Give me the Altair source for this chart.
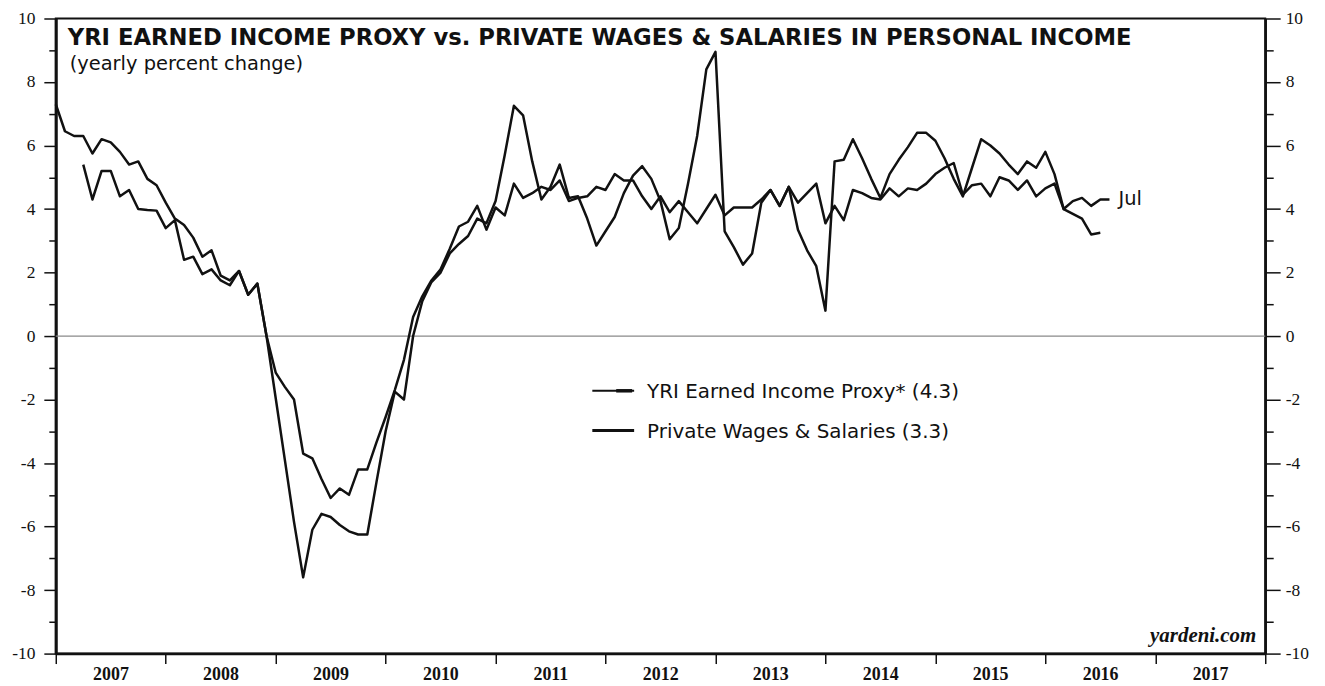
import altair as alt
import pandas as pd

# ---------------- data ----------------
years = list(range(2007, 2019))          # year boundary ticks
y_ticks = list(range(-10, 11))           # every integer; odd ones are minor ticks

proxy_label = "YRI Earned Income Proxy* (4.3)"
pws_label = "Private Wages & Salaries (3.3)"

# monthly, plotted at month end; index 0 = Dec 2006
proxy_start = 0
proxy_vals = [
    7.3, 6.45, 6.3, 6.3, 5.75, 6.2, 6.1, 5.8, 5.4, 5.5,
    4.95, 4.75, 4.2, 3.7, 3.5, 3.1, 2.5, 2.7, 1.9, 1.75,
    2.05, 1.3, 1.65, 0.0, -1.15, -1.6, -2.0, -3.7, -3.85, -4.5,
    -5.1, -4.8, -5.0, -4.2, -4.2, -3.35, -2.55, -1.7, -0.75, 0.6,
    1.25, 1.75, 2.1, 2.75, 3.45, 3.6, 4.1, 3.35, 4.05, 3.8,
    4.8, 4.35, 4.5, 4.7, 4.6, 4.9, 4.25, 4.35, 4.4, 4.7,
    4.6, 5.1, 4.9, 4.9, 4.4, 4.0, 4.4, 3.9, 4.25, 3.9,
    3.55, 4.0, 4.45, 3.8, 4.05, 4.05, 4.05, 4.3, 4.6, 4.1,
    4.7, 4.2, 4.5, 4.8, 3.55, 4.1, 3.65, 4.6, 4.5, 4.35,
    4.3, 4.65, 4.4, 4.65, 4.6, 4.8, 5.1, 5.3, 5.45, 4.45,
    4.75, 4.8, 4.4, 5.0, 4.9, 4.6, 4.9, 4.4, 4.65, 4.8,
    4.0, 4.25, 4.35, 4.1, 4.3, 4.3,
]

# index 3 = Mar 2007, last = Jun 2016
pws_start = 3
pws_vals = [
    5.4, 4.3, 5.2, 5.2, 4.4, 4.6, 4.0, 3.97, 3.95, 3.4,
    3.65, 2.4, 2.5, 1.95, 2.1, 1.75, 1.6, 2.05, 1.3, 1.65,
    0.0, -1.95, -3.9, -5.85, -7.6, -6.1, -5.6, -5.7, -5.95, -6.15,
    -6.25, -6.25, -4.6, -3.0, -1.75, -2.0, 0.0, 1.1, 1.7, 2.0,
    2.6, 2.9, 3.15, 3.7, 3.55, 4.25, 5.7, 7.25, 6.95, 5.5,
    4.3, 4.7, 5.4, 4.35, 4.4, 3.7, 2.85, 3.3, 3.75, 4.5,
    5.05, 5.35, 4.95, 4.25, 3.05, 3.4, 4.8, 6.3, 8.4, 8.95,
    3.3, 2.8, 2.25, 2.6, 4.2, 4.6, 4.1, 4.7, 3.35, 2.7,
    2.2, 0.8, 5.5, 5.55, 6.2, 5.6, 4.95, 4.35, 5.1, 5.55,
    5.95, 6.4, 6.4, 6.15, 5.6, 4.95, 4.4, 5.3, 6.2, 6.0,
    5.75, 5.4, 5.1, 5.5, 5.3, 5.8, 5.1, 4.0, 3.85, 3.7,
    3.2, 3.25,
]

rows = []
for i, v in enumerate(proxy_vals):
    rows.append({"t": 2007 + (proxy_start + i) / 12, "value": v, "series": proxy_label})
for i, v in enumerate(pws_vals):
    rows.append({"t": 2007 + (pws_start + i) / 12, "value": v, "series": pws_label})
df = pd.DataFrame(rows)

last_df = pd.DataFrame({
    "t": [2007 + (proxy_start + len(proxy_vals) - 1) / 12],
    "value": [proxy_vals[-1]],
    "label": ["Jul"],
})

# ---------------- styling ----------------
W, H = 1215, 638
INK = "#111111"
SERIF = "Liberation Serif"
SANS = "DejaVu Sans"
ODD = "datum.value % 2 != 0"

x_scale = alt.Scale(domain=[2007, 2018], nice=False, zero=False)
y_scale = alt.Scale(domain=[-10, 10], nice=False, zero=False)

x_axis = alt.Axis(
    values=years, format="d",
    labelExpr="datum.value >= 2018 ? '' : '' + datum.value",
    labelOffset=55, labelFlush=False, labelOverlap=False, labelBound=False,
    labelFont=SERIF, labelFontWeight="bold", labelFontSize=18, labelColor=INK,
    labelPadding=2, tickSize=10, tickWidth=1.5, tickColor=INK,
    domainWidth=2.5, domainColor=INK, grid=False, title=None,
)

y_left = alt.Axis(
    orient="left", values=y_ticks,
    labelExpr=f"{ODD} ? '' : '' + datum.value",
    labelFont=SERIF, labelFontSize=17.5, labelColor=INK, labelPadding=9,
    tickSize={"condition": {"test": ODD, "value": 7}, "value": 12},
    tickWidth=1.5, tickColor=INK, domainWidth=3, domainColor=INK,
    grid=False, title=None, labelOverlap=False, labelFlush=False,
)

y_right = alt.Axis(
    orient="right", values=y_ticks,
    labelExpr=f"{ODD} ? '' : '' + datum.value",
    labelFont=SERIF, labelFontSize=17.5, labelColor=INK, labelPadding=5,
    tickSize={"condition": {"test": ODD, "value": 8}, "value": 15},
    tickWidth=1.5, tickColor=INK, domainWidth=2.5, domainColor=INK,
    grid=False, title=None, labelOverlap=False, labelFlush=False,
)

zero_df = pd.DataFrame({"value": [0]})
zero_rule = alt.Chart(zero_df).mark_rule(color="#8a8a8a", strokeWidth=1.2).encode(
    y=alt.Y("value:Q", scale=y_scale, axis=y_right)
)

lines = alt.Chart(df).mark_line(color=INK, strokeWidth=2.5, strokeJoin="round").encode(
    x=alt.X("t:Q", scale=x_scale, axis=x_axis),
    y=alt.Y("value:Q", scale=y_scale, axis=y_left),
    detail="series:N",
)

jul = alt.Chart(last_df).mark_text(
    align="left", baseline="middle", dx=9, font=SANS, fontSize=19.5, color=INK
).encode(
    x=alt.X("t:Q", scale=x_scale),
    y=alt.Y("value:Q", scale=y_scale, axis=None),
    text="label:N",
)

one = pd.DataFrame({"a": [0]})

title = alt.Chart(one).mark_text(
    text="YRI EARNED INCOME PROXY vs. PRIVATE WAGES & SALARIES IN PERSONAL INCOME",
    align="left", baseline="alphabetic", font=SANS, fontWeight="bold", fontSize=22.8, color=INK,
).encode(x=alt.value(12), y=alt.value(27))

subtitle = alt.Chart(one).mark_text(
    text="(yearly percent change)", align="left", baseline="alphabetic",
    font=SANS, fontSize=19.5, color=INK,
).encode(x=alt.value(14), y=alt.value(52))

leg1_line = alt.Chart(one).mark_rule(color=INK, strokeWidth=2).encode(
    x=alt.value(539), x2=alt.value(581), y=alt.value(374))
leg1_thick = alt.Chart(one).mark_rule(color=INK, strokeWidth=3.5).encode(
    x=alt.value(563), x2=alt.value(579), y=alt.value(374))
leg2_line = alt.Chart(one).mark_rule(color=INK, strokeWidth=3).encode(
    x=alt.value(539), x2=alt.value(581), y=alt.value(414))

leg1_text = alt.Chart(one).mark_text(
    text=proxy_label, align="left", baseline="alphabetic", font=SANS, fontSize=20, color=INK,
).encode(x=alt.value(594), y=alt.value(381))
leg2_text = alt.Chart(one).mark_text(
    text=pws_label, align="left", baseline="alphabetic", font=SANS, fontSize=20, color=INK,
).encode(x=alt.value(594), y=alt.value(421))

credit = alt.Chart(one).mark_text(
    text="yardeni.com", align="right", baseline="alphabetic", font=SERIF,
    fontWeight="bold", fontStyle="italic", fontSize=21, color=INK,
).encode(x=alt.value(1206), y=alt.value(626))

chart = alt.layer(
    zero_rule, lines, jul, title, subtitle,
    leg1_line, leg1_thick, leg2_line, leg1_text, leg2_text, credit,
).resolve_scale(y="independent").properties(
    width=W, height=H,
    autosize=alt.AutoSizeParams(type="none"),
    padding={"left": 48, "top": 9, "right": 52, "bottom": 30},
).configure_view(stroke=INK, strokeWidth=2)

chart.save("out.html", embed_options={"renderer": "svg", "actions": False})
